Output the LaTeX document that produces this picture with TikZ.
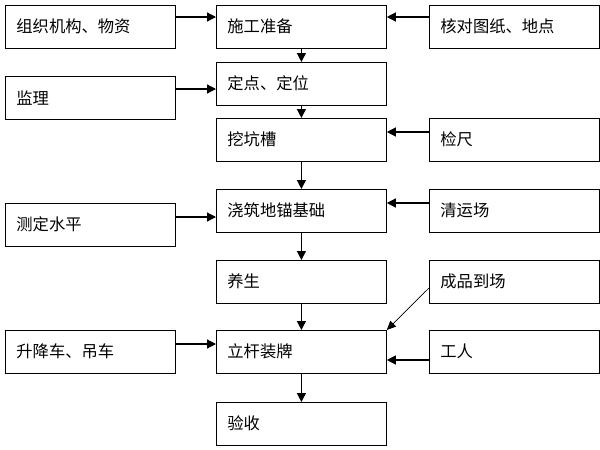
\documentclass[tikz,border=0pt]{standalone}
\usepackage{fontspec}
\setmainfont{Noto Sans CJK SC}
\usetikzlibrary{arrows.meta}
\begin{document}
\begin{tikzpicture}[x=1pt,y=-1pt,
  box/.style={draw,line width=0.8pt,rectangle,anchor=north west,minimum width=170pt,minimum height=42.5pt,
    inner xsep=11pt,inner ysep=0pt,text width=148pt,align=left,font=\fontsize{16.3pt}{19pt}\selectfont},
  arr/.style={line width=1.2pt,-{Triangle[length=9pt,width=9pt]}},
  thin arr/.style={line width=0.7pt,-{Triangle[length=9pt,width=8pt]}}]
\useasboundingbox[fill=white] (0,0) rectangle (600,450);
\node[box] (l1) at (5,5) {组织机构、物资};
\node[box] (c1) at (216,5) {施工准备};
\node[box] (r1) at (429,5) {核对图纸、地点};
\node[box] (c2) at (216,62) {定点、定位};
\node[box] (l2) at (5,76) {监理};
\node[box] (c3) at (216,118) {挖坑槽};
\node[box] (r3) at (429,118) {检尺};
\node[box] (c4) at (216,189) {浇筑地锚基础};
\node[box] (l4) at (5,203) {测定水平};
\node[box] (r4) at (429,189) {清运场};
\node[box] (c5) at (216,260) {养生};
\node[box] (r5) at (429,260) {成品到场};
\node[box] (c6) at (216,330) {立杆装牌};
\node[box] (l6) at (5,330) {升降车、吊车};
\node[box] (r6) at (429,330) {工人};
\node[box] (c7) at (216,402) {验收};
% horizontal arrows
\draw[arr] (l1.east |- 0,17) -- (c1.west |- 0,17);
\draw[arr] (r1.west |- 0,17) -- (c1.east |- 0,17);
\draw[arr] (l2.east |- 0,89) -- (c2.west |- 0,89);
\draw[arr] (r3.west |- 0,132) -- (c3.east |- 0,132);
\draw[arr] (l4.east |- 0,217) -- (c4.west |- 0,217);
\draw[arr] (r4.west |- 0,203) -- (c4.east |- 0,203);
\draw[arr] (l6.east |- 0,344) -- (c6.west |- 0,344);
\draw[arr] (r6.west |- 0,360) -- (c6.east |- 0,360);
% vertical arrows
\draw[arr] (c1.south) -- (c2.north);
\draw[arr] (c2.south) -- (c3.north);
\draw[arr] (c3.south) -- (c4.north);
\draw[arr] (c4.south) -- (c5.north);
\draw[arr] (c5.south) -- (c6.north);
\draw[arr] (c6.south) -- (c7.north);
% diagonal
\draw[thin arr] (r5.west |- 0,288) -- (c6.north east);
\end{tikzpicture}
\end{document}
